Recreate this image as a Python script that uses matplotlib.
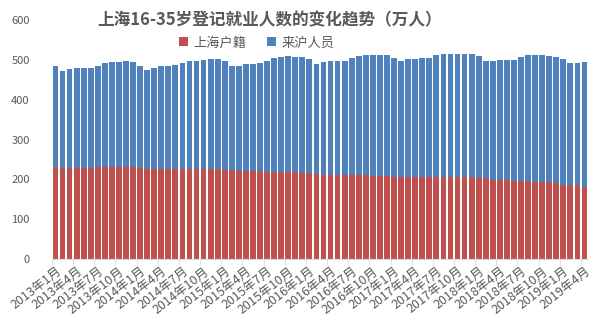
import numpy as np
import matplotlib.pyplot as plt

plt.rcParams['font.family'] = ['Noto Sans CJK SC', 'DejaVu Sans']

# monthly labels 2013-01 .. 2019-04
months = [f'{y}年{m}月' for y in range(2013, 2020) for m in range(1, 13)][:76]

# 上海户籍 (万人)
huji = [232, 229, 229, 229, 229, 229, 232, 232, 232, 232, 232, 232,
        229, 226, 226, 226, 226, 226, 226, 226, 226, 226, 226, 226,
        224, 224, 220, 220, 220, 220, 219, 219, 219, 219, 219, 216,
        216, 213, 211, 211, 211, 211, 212, 212, 212, 208, 208, 208,
        207, 207, 207, 205, 205, 205, 205, 205, 205, 205, 205, 205,
        203, 203, 199, 199, 199, 195, 195, 195, 193, 193, 193, 191,
        187, 187, 187, 182]

# bar totals (上海户籍 + 来沪人员)
total = [485, 472, 477, 481, 481, 481, 486, 492, 494, 494, 497, 494,
         485, 475, 480, 485, 485, 487, 492, 497, 497, 500, 502, 502,
         497, 485, 485, 490, 490, 492, 497, 505, 507, 510, 507, 507,
         502, 490, 494, 497, 497, 497, 505, 510, 512, 512, 512, 512,
         505, 497, 502, 502, 505, 505, 512, 515, 515, 515, 515, 515,
         510, 497, 497, 500, 500, 500, 507, 512, 512, 512, 510, 507,
         502, 492, 492, 494]

laihu = [t - h for t, h in zip(total, huji)]

red = '#C0504D'
blue = '#4F81BD'

fig = plt.figure(figsize=(6.04, 3.28), dpi=100)
ax = fig.add_axes([0.086, 0.2104, 0.8875, 0.7276])

x = np.arange(len(months))
ax.bar(x, huji, width=0.82, color=red, label='上海户籍')
ax.bar(x, laihu, width=0.82, bottom=huji, color=blue, label='来沪人员')

ax.set_xlim(-0.5, len(months) - 0.5)
ax.set_ylim(0, 600)
ax.set_yticks(range(0, 601, 100))

for s in ['top', 'right', 'left']:
    ax.spines[s].set_visible(False)
ax.spines['bottom'].set_color('#D9D9D9')

ax.tick_params(axis='y', length=0, labelsize=8, labelcolor='#595959', pad=16)

# labels every 3 months, tick marks between categories
ax.set_xticks(x[::3])
ax.set_xticklabels(months[::3], rotation=38, ha='right', rotation_mode='anchor',
                   fontsize=9, color='#595959')
ax.tick_params(axis='x', which='major', length=0, pad=4)
ax.set_xticks(x[::3] - 0.5, minor=True)
ax.tick_params(axis='x', which='minor', length=4, color='#D9D9D9')

fig.text(0.447, 0.938, '上海16-35岁登记就业人数的变化趋势（万人）', ha='center', va='center',
         fontsize=12, fontweight='bold', color='#595959')

ax.legend(loc='center', bbox_to_anchor=(0.425, 0.869), ncol=2, frameon=False,
          fontsize=9.5, handlelength=0.7, handleheight=0.7, handletextpad=0.4,
          columnspacing=1.6, labelcolor='#595959', bbox_transform=fig.transFigure)

fig.savefig('out.png', dpi=100)
